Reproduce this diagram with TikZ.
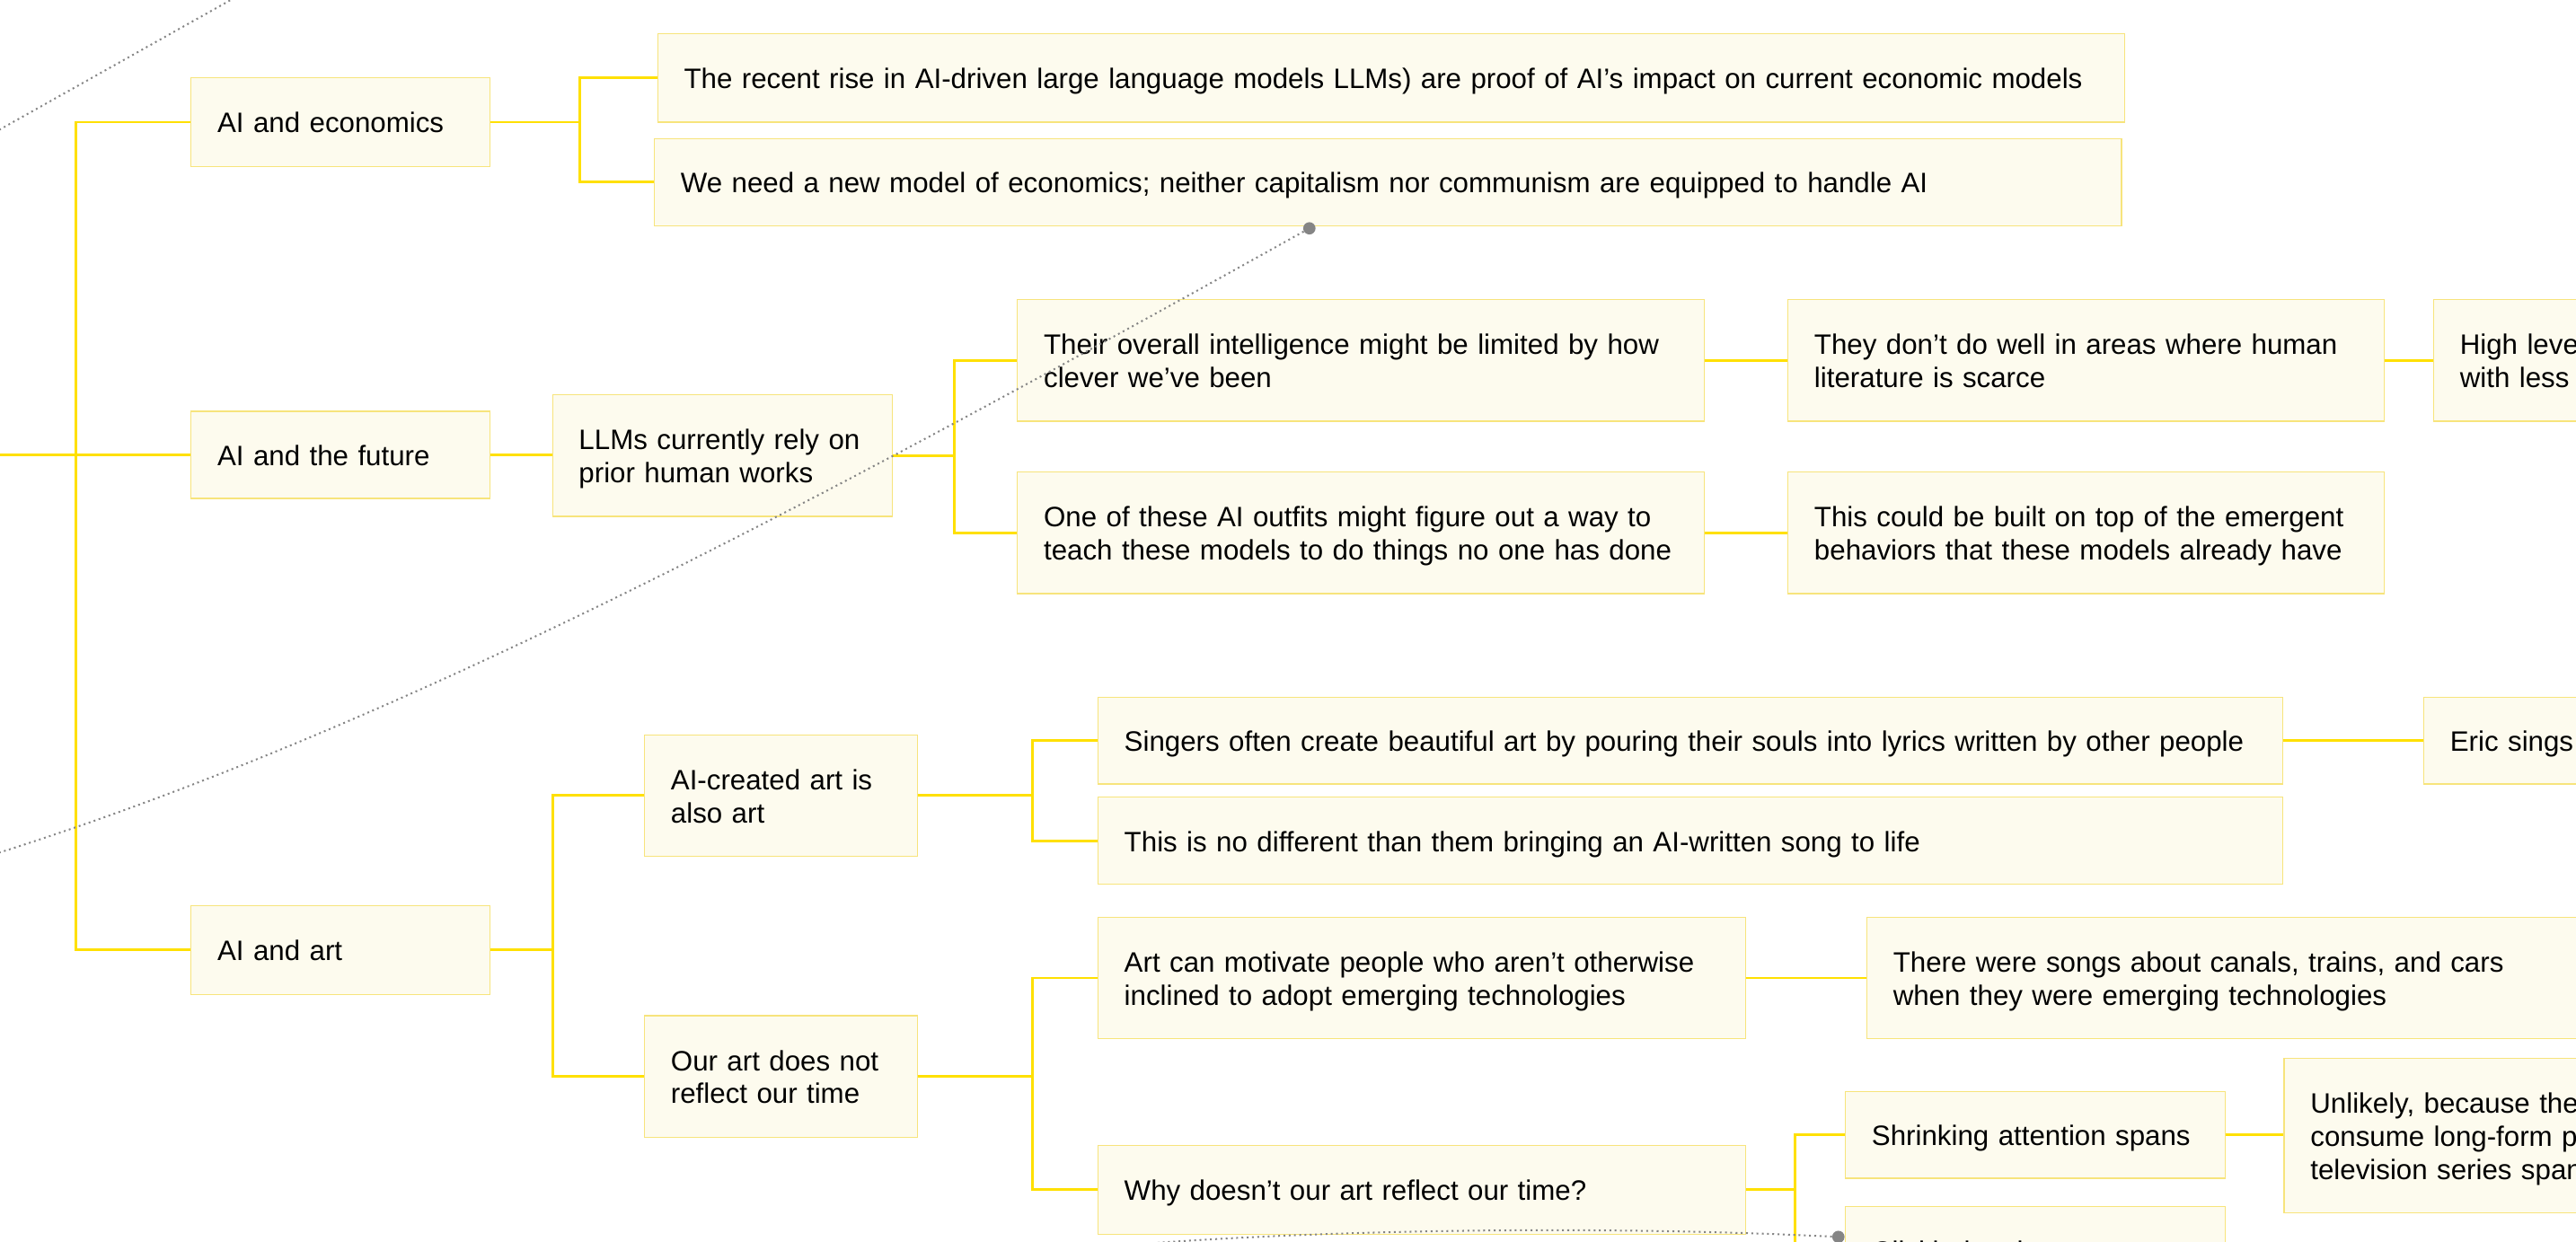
\documentclass[tikz,border=0pt]{standalone}
\usepackage{fontspec}
\setmainfont{Liberation Sans}
\usetikzlibrary{calc}
\definecolor{boxfill}{HTML}{FDFBEE}
\definecolor{boxline}{HTML}{F7E47C}
\definecolor{connc}{HTML}{FFE000}
\definecolor{dotgray}{HTML}{858585}
\newcommand{\tl}[1]{\raisebox{-2.5pt}[\height][\depth]{\begin{tabular}{@{}l@{}}#1\end{tabular}}}
\begin{document}
\begin{tikzpicture}[x=1pt,y=-1pt,
  box/.style={draw=boxline, line width=0.7pt, fill=boxfill, anchor=north west,
    align=left, inner xsep=16pt, inner ysep=0pt, text=black,
    font=\fontsize{17.1pt}{20pt}\selectfont},
  conn/.style={draw=connc, line width=1.6pt},
  dotline/.style={draw=dotgray, line width=1.1pt, dash pattern=on 1.1pt off 2.1pt},
  dotend/.style={circle, fill=dotgray, inner sep=0pt, minimum size=7.5pt}]
\useasboundingbox (0,0) rectangle (1568,756);
\clip (0,0) rectangle (1568,756);

% level 1
\node[box, minimum width=182pt, text width=150pt, minimum height=54pt] (econ) at (116,47) {\tl{AI and economics}};
\node[box, minimum width=182pt, text width=150pt, minimum height=53pt] (future) at (116,250) {\tl{AI and the future}};
\node[box, minimum width=182pt, text width=150pt, minimum height=54pt] (art) at (116,551) {\tl{AI and art}};

% economics
\node[box, minimum width=893pt, text width=861pt, minimum height=54pt] (econ1) at (400,20) {\tl{The recent rise in AI-driven large language models LLMs) are proof of AI’s impact on current economic models}};
\node[box, minimum width=893pt, text width=861pt, minimum height=53pt] (econ2) at (398,84) {\tl{We need a new model of economics; neither capitalism nor communism are equipped to handle AI}};

% future
\node[box, minimum width=207pt, text width=175pt, minimum height=74pt] (llm) at (336,240) {\tl{LLMs currently rely on\\prior human works}};
\node[box, minimum width=418pt, text width=386pt, minimum height=74pt] (f1) at (619,182) {\tl{Their overall intelligence might be limited by how\\clever we’ve been}};
\node[box, minimum width=418pt, text width=386pt, minimum height=74pt] (f2) at (619,287) {\tl{One of these AI outfits might figure out a way to\\teach these models to do things no one has done}};
\node[box, minimum width=363pt, text width=331pt, minimum height=74pt] (f1a) at (1088,182) {\tl{They don’t do well in areas where human\\literature is scarce}};
\node[box, minimum width=400pt, text width=368pt, minimum height=74pt] (f1b) at (1481,182) {\tl{High level\\with less}};
\node[box, minimum width=363pt, text width=331pt, minimum height=74pt] (f2a) at (1088,287) {\tl{This could be built on top of the emergent\\behaviors that these models already have}};

% art
\node[box, minimum width=166pt, text width=134pt, minimum height=74pt] (art1) at (392,447) {\tl{AI-created art is\\also art}};
\node[box, minimum width=166pt, text width=134pt, minimum height=74pt] (art2) at (392,618) {\tl{Our art does not\\reflect our time}};
\node[box, minimum width=721pt, text width=689pt, minimum height=53pt] (a1a) at (668,424) {\tl{Singers often create beautiful art by pouring their souls into lyrics written by other people}};
\node[box, minimum width=721pt, text width=689pt, minimum height=53pt] (a1b) at (668,485) {\tl{This is no different than them bringing an AI-written song to life}};
\node[box, minimum width=300pt, text width=268pt, minimum height=53pt] (a1a1) at (1475,424) {\tl{Eric sings}};
\node[box, minimum width=394pt, text width=362pt, minimum height=74pt] (a2a) at (668,558) {\tl{Art can motivate people who aren’t otherwise\\inclined to adopt emerging technologies}};
\node[box, minimum width=394pt, text width=362pt, minimum height=54pt] (a2b) at (668,697) {\tl{Why doesn’t our art reflect our time?}};
\node[box, minimum width=500pt, text width=468pt, minimum height=74pt] (a2a1) at (1136,558) {\tl{There were songs about canals, trains, and cars\\when they were emerging technologies}};
\node[box, minimum width=231pt, text width=199pt, minimum height=53pt] (a2b1) at (1123,664) {\tl{Shrinking attention spans}};
\node[box, minimum width=231pt, text width=199pt, minimum height=54pt] (a2b2) at (1123,734) {\tl{Clickbait culture}};
\node[box, minimum width=400pt, text width=368pt, minimum height=94pt] (a2b1a) at (1390,644) {\tl{Unlikely, because they\\consume long-form podcasts\\television series spanning}};

% connectors
\coordinate (root) at (-30,277);
\draw[conn] (root) -- ([xshift=76pt]root) |- (econ.west);
\draw[conn] (root) -- (root -| future.west);
\draw[conn] ([xshift=76pt]root) |- (art.west);

\draw[conn] (econ.east) -- ([xshift=54pt]econ.east) |- (econ1.west);
\draw[conn] ([xshift=54pt]econ.east) |- (econ2.west);

\draw[conn] (future.east) -- (future.east -| llm.west);
\draw[conn] (llm.east) -- ([xshift=37pt]llm.east) |- (f1.west);
\draw[conn] ([xshift=37pt]llm.east) |- (f2.west);
\draw[conn] (f1.east) -- (f1.east -| f1a.west);
\draw[conn] (f1a.east) -- (f1a.east -| f1b.west);
\draw[conn] (f2.east) -- (f2.east -| f2a.west);

\draw[conn] (art.east) -- ([xshift=38pt]art.east) |- (art1.west);
\draw[conn] ([xshift=38pt]art.east) |- (art2.west);
\draw[conn] (art1.east) -- ([xshift=70pt]art1.east) |- (a1a.west);
\draw[conn] ([xshift=70pt]art1.east) |- (a1b.west);
\draw[conn] (a1a.east) -- (a1a.east -| a1a1.west);
\draw[conn] (art2.east) -- ([xshift=70pt]art2.east) |- (a2a.west);
\draw[conn] ([xshift=70pt]art2.east) |- (a2b.west);
\draw[conn] (a2a.east) -- (a2a.east -| a2a1.west);
\draw[conn] (a2b.east) -- ([xshift=30pt]a2b.east) |- (a2b1.west);
\draw[conn] ([xshift=30pt]a2b.east) |- (a2b2.west);
\draw[conn] (a2b1.east) -- (a2b1.east -| a2b1a.west);

% dotted relation lines
\coordinate (dA1) at (-20,90);
\coordinate (dA2) at (160,-11);
\draw[dotline] (dA1) -- (dA2);
\node[dotend] (dB) at (797,139) {};
\coordinate (dBend) at (-12,522.7);
\draw[dotline] (dB) .. controls (497,306) and (238,445) .. (dBend);
\node[dotend] (dC) at (1119,753) {};
\coordinate (dCend) at (640,762);
\draw[dotline] (dC) .. controls (1000,747) and (800,746) .. (dCend);
\end{tikzpicture}
\end{document}
